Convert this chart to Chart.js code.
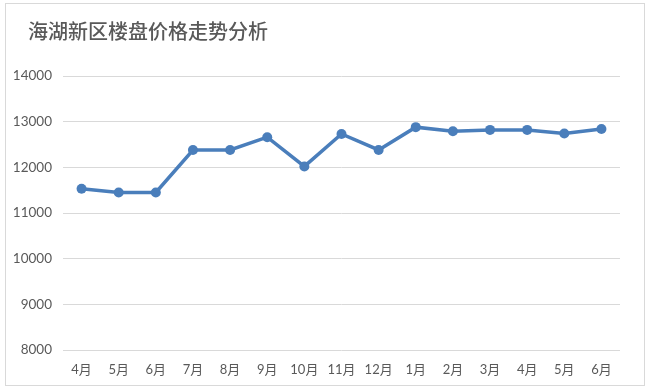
<!DOCTYPE html>
<html>
<head>
<meta charset="utf-8">
<script src="https://cdn.jsdelivr.net/npm/chart.js@4/dist/chart.umd.min.js"></script>
<style>
  html, body { margin: 0; padding: 0; background: #ffffff; }
  #frame { position: absolute; left: 5px; top: 3px; width: 638px; height: 381px; border: 1.5px solid #d9d9d9; }
  #c { position: absolute; left: 0; top: 0; }
</style>
</head>
<body>
<div id="frame"></div>
<canvas id="c" width="650" height="392"></canvas>
<script>
const chartTitle = "海湖新区楼盘价格走势分析";
const categories = ["4月","5月","6月","7月","8月","9月","10月","11月","12月","1月","2月","3月","4月","5月","6月"];
const prices = [11530, 11450, 11450, 12380, 12380, 12660, 12020, 12730, 12380, 12880, 12790, 12820, 12820, 12740, 12840];
const yTicks = [8000, 9000, 10000, 11000, 12000, 13000, 14000];

const textColor = "#595959";
const lineColor = "#4a7ebb";
const fontFamily = "Lato, 'Noto Sans CJK SC', sans-serif";

const titlePlugin = {
  id: "customTitle",
  afterDraw(chart) {
    const ctx = chart.ctx;
    ctx.save();
    ctx.font = "500 20px 'Noto Sans CJK SC', sans-serif";
    ctx.fillStyle = textColor;
    ctx.textBaseline = "middle";
    ctx.textAlign = "left";
    ctx.fillText(chartTitle, 28, 31);
    ctx.restore();
  }
};

new Chart(document.getElementById("c"), {
  type: "line",
  data: {
    labels: categories,
    datasets: [{
      data: prices,
      borderColor: lineColor,
      backgroundColor: lineColor,
      borderWidth: 3.5,
      pointRadius: 5,
      pointBackgroundColor: lineColor,
      pointBorderWidth: 0,
      tension: 0,
      fill: false
    }]
  },
  options: {
    responsive: false,
    animation: false,
    devicePixelRatio: 1,
    layout: { padding: { left: 13, right: 30, top: 76, bottom: 12 } },
    plugins: { legend: { display: false }, title: { display: false }, tooltip: { enabled: false } },
    scales: {
      x: {
        offset: true,
        grid: { display: false, drawTicks: false },
        border: { display: false },
        ticks: { color: textColor, font: { family: fontFamily, size: 13 }, padding: 12, maxRotation: 0, autoSkip: false },
        afterFit(s) { s.height = 30; }
      },
      y: {
        min: 8000, max: 14000,
        afterBuildTicks(s) { s.ticks = yTicks.map(v => ({ value: v })); },
        grid: { color: "#d9d9d9", lineWidth: 1, drawTicks: false },
        border: { display: false },
        ticks: { color: textColor, font: { family: fontFamily, size: 13.5 }, padding: 11, callback: v => String(v) },
        afterFit(s) { s.width = 50; }
      }
    }
  },
  plugins: [titlePlugin]
});
</script>
</body>
</html>
